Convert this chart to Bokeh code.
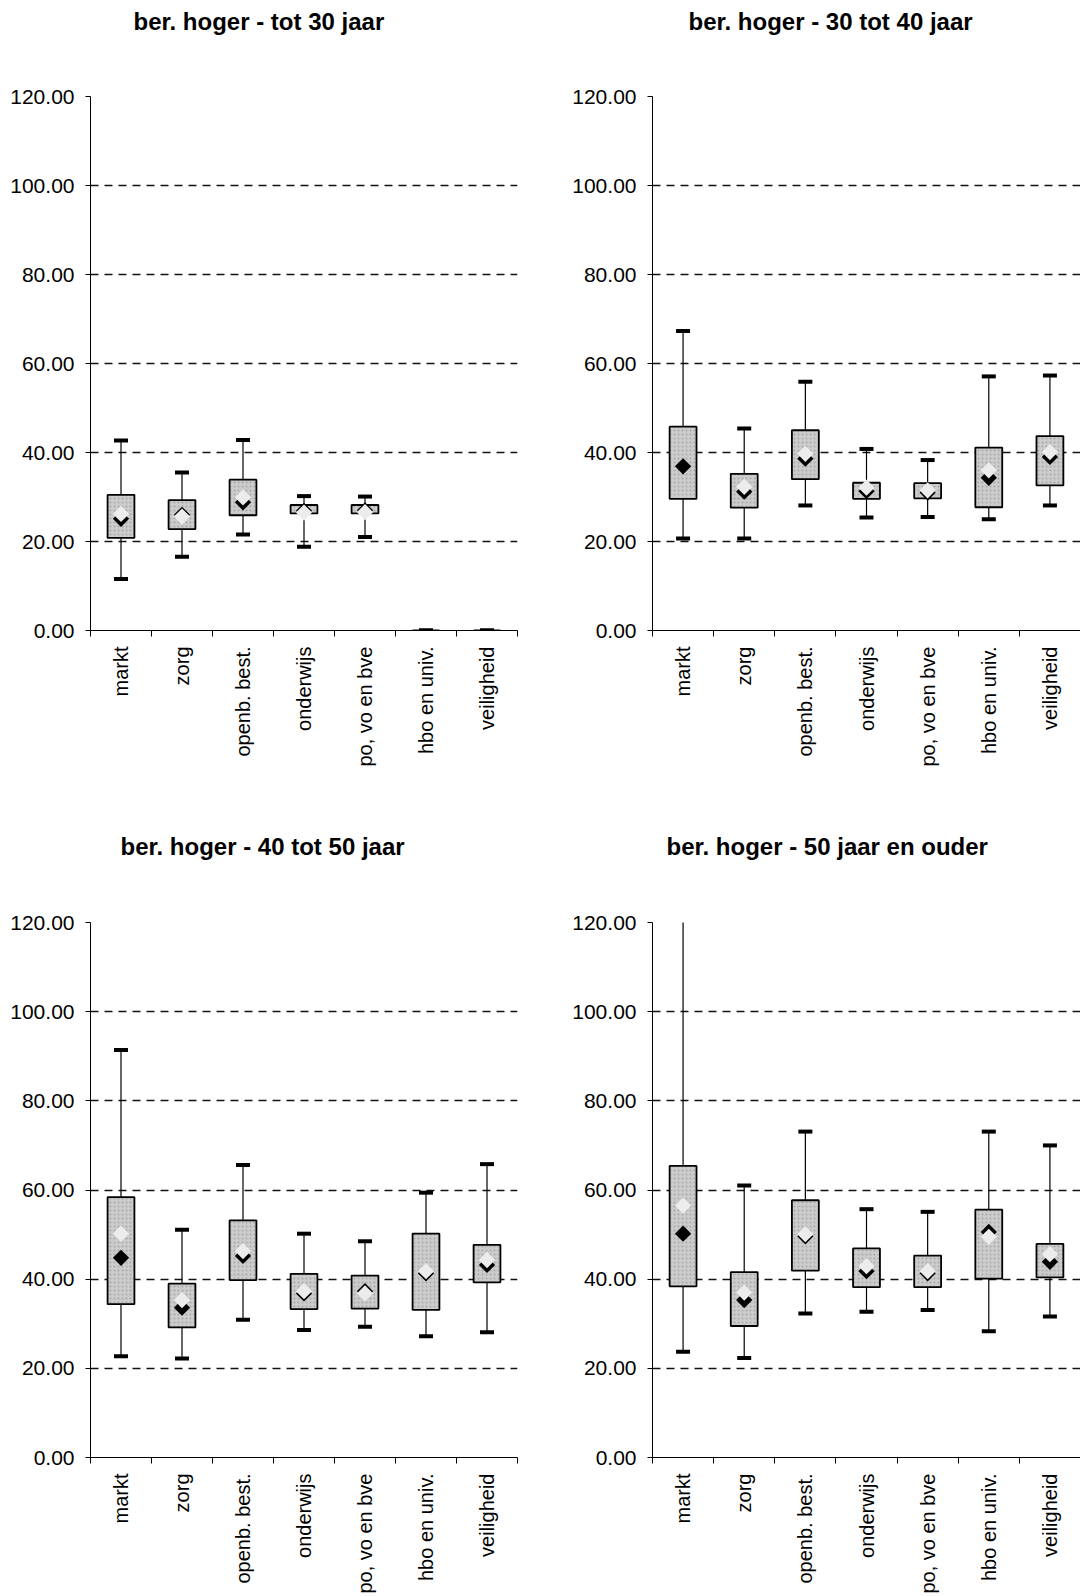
import math
from bokeh.plotting import figure
from bokeh.layouts import column, row
from bokeh.models import FixedTicker, PrintfTickFormatter, ColumnDataSource, Range1d
from bokeh.embed import file_html
from bokeh.resources import INLINE

nan = float("nan")

categories = ["markt", "zorg", "openb. best.", "onderwijs", "po, vo en bve", "hbo en univ.", "veiligheid"]
y_ticks = [0, 20, 40, 60, 80, 100, 120]
grid_ticks = [20, 40, 60, 80, 100, 120]

titles = ["ber. hoger - tot 30 jaar", "ber. hoger - 30 tot 40 jaar",
          "ber. hoger - 40 tot 50 jaar", "ber. hoger - 50 jaar en ouder"]

# tot 30 jaar
tot30_max = [42.7, 35.5, 42.8, 30.2, 30.1, 0, 0]
tot30_q3 = [30.5, 29.3, 33.9, 28.2, 28.2, 0, 0]
tot30_q1 = [20.8, 22.8, 25.9, 26.3, 26.3, 0, 0]
tot30_min = [11.6, 16.6, 21.6, 18.8, 21.0, 0, 0]
tot30_mean = [25.1, 26.0, 28.8, 26.9, 27.0, nan, nan]
tot30_median = [26.2, 25.6, 29.9, 26.5, 26.6, nan, nan]

# 30 tot 40 jaar
j30_40_max = [67.3, 45.4, 55.9, 40.8, 38.3, 57.1, 57.3]
j30_40_q3 = [45.8, 35.2, 45.0, 33.2, 33.1, 41.1, 43.7]
j30_40_q1 = [29.6, 27.6, 34.0, 29.6, 29.7, 27.7, 32.6]
j30_40_min = [20.7, 20.7, 28.1, 25.4, 25.5, 25.0, 28.1]
j30_40_mean = [36.9, 31.2, 38.6, 31.3, 31.0, 34.3, 39.0]
j30_40_median = [nan, 32.3, 39.7, 32.1, 31.5, 36.0, 40.1]

# 40 tot 50 jaar
j40_50_max = [91.4, 51.1, 65.6, 50.2, 48.5, 59.4, 65.8]
j40_50_q3 = [58.4, 39.0, 53.2, 41.2, 40.8, 50.2, 47.7]
j40_50_q1 = [34.4, 29.2, 39.8, 33.3, 33.4, 33.1, 39.3]
j40_50_min = [22.7, 22.2, 30.9, 28.6, 29.3, 27.2, 28.1]
j40_50_mean = [44.8, 33.6, 45.2, 36.8, 37.3, 41.3, 43.2]
j40_50_median = [50.2, 35.3, 46.3, 37.3, 36.8, 41.8, 44.3]

# 50 jaar en ouder
j50_max = [125.0, 61.0, 73.1, 55.7, 55.1, 73.1, 70.0]
j50_q3 = [65.4, 41.6, 57.7, 46.9, 45.3, 55.6, 47.9]
j50_q1 = [38.4, 29.5, 41.9, 38.2, 38.2, 40.1, 40.4]
j50_min = [23.7, 22.3, 32.3, 32.7, 33.1, 28.3, 31.6]
j50_mean = [50.2, 35.3, 49.6, 41.8, 41.3, 50.6, 43.9]
j50_median = [56.5, 37.0, 50.1, 42.9, 41.8, 49.5, 45.6]

FONT = "Liberation Sans"


def title_fig(text, width, height, b_left, b_right, b_top, t_offset):
    t = figure(width=width, height=height, output_backend="svg", toolbar_location=None,
               title=text, x_range=Range1d(0, 1), y_range=Range1d(0, 1),
               min_border_left=b_left, min_border_right=b_right,
               min_border_top=b_top, min_border_bottom=0)
    t.title.text_font = FONT
    t.title.text_font_size = "24px"
    t.title.text_font_style = "bold"
    t.title.text_color = "black"
    t.title.align = "left"
    t.title.offset = t_offset
    t.title.standoff = 8
    t.axis.visible = False
    t.grid.visible = False
    t.outline_line_color = None
    t.background_fill_color = "white"
    t.border_fill_color = "white"
    return t


def panel(hi, q3, q1, lo, mean, med, width, height, b_left, b_right, b_top, b_bottom):
    n = len(categories)
    xs = [i + 0.5 for i in range(n)]
    src = ColumnDataSource(dict(x=xs, hi=hi, q3=q3, q1=q1, lo=lo, mean=mean, med=med))
    p = figure(width=width, height=height, x_range=Range1d(0, n), y_range=Range1d(0, 120),
               output_backend="svg", toolbar_location=None,
               min_border_left=b_left, min_border_right=b_right,
               min_border_top=b_top, min_border_bottom=b_bottom)
    p.outline_line_color = None
    p.background_fill_color = "white"
    p.border_fill_color = "white"

    # y axis
    p.yaxis.ticker = FixedTicker(ticks=y_ticks)
    p.yaxis.formatter = PrintfTickFormatter(format="%.2f")
    p.yaxis.major_label_text_font = FONT
    p.yaxis.major_label_text_font_size = "21px"
    p.yaxis.major_label_text_color = "black"
    p.yaxis.major_tick_out = 5
    p.yaxis.major_tick_in = 0
    p.yaxis.minor_tick_line_color = None
    p.yaxis.axis_line_color = "black"
    p.yaxis.major_tick_line_color = "black"
    p.yaxis.major_label_standoff = 11

    # x axis: labels at category centres, ticks at category boundaries
    p.xaxis.ticker = FixedTicker(ticks=xs, minor_ticks=list(range(n + 1)))
    p.xaxis.major_label_overrides = {x: c for x, c in zip(xs, categories)}
    p.xaxis.major_label_orientation = math.pi / 2
    p.xaxis.major_label_text_font = FONT
    p.xaxis.major_label_text_font_size = "20px"
    p.xaxis.major_label_text_color = "black"
    p.xaxis.major_tick_out = 0
    p.xaxis.major_tick_in = 0
    p.xaxis.minor_tick_out = 6
    p.xaxis.minor_tick_in = 0
    p.xaxis.minor_tick_line_color = "black"
    p.xaxis.axis_line_color = "black"
    p.xaxis.major_label_standoff = 10

    p.xgrid.grid_line_color = None
    p.ygrid.ticker = FixedTicker(ticks=grid_ticks)
    p.ygrid.grid_line_color = "#111111"
    p.ygrid.grid_line_dash = "8 6"
    p.ygrid.grid_line_width = 1.3

    p.segment(x0="x", y0="q3", x1="x", y1="hi", source=src, line_color="black", line_width=1.2)
    p.segment(x0="x", y0="q1", x1="x", y1="lo", source=src, line_color="black", line_width=1.2)
    p.vbar(x="x", width=0.44, top="q3", bottom="q1", source=src,
           fill_color="#cccccc", line_color="black", line_width=1.8,
           hatch_pattern="dot", hatch_color="#8f8f8f", hatch_scale=4, hatch_weight=1, hatch_alpha=0.6)
    p.scatter(x="x", y="hi", source=src, marker="dash", size=14, line_width=4, line_color="black")
    p.scatter(x="x", y="lo", source=src, marker="dash", size=14, line_width=4, line_color="black")
    p.scatter(x="x", y="mean", source=src, marker="square", angle=math.pi / 4, size=11.5,
              fill_color="black", line_color=None)
    p.scatter(x="x", y="med", source=src, marker="square", angle=math.pi / 4, size=11.5,
              fill_color="#ececec", line_color=None)
    return p


t1 = title_fig(titles[0], 560, 60, 90, 43, 38, 43)
t2 = title_fig(titles[1], 520, 60, 92, 0, 38, 36)
p1 = panel(tot30_max, tot30_q3, tot30_q1, tot30_min, tot30_mean, tot30_median,
           560, 740, 90, 43, 36, 168)
p2 = panel(j30_40_max, j30_40_q3, j30_40_q1, j30_40_min, j30_40_mean, j30_40_median,
           520, 740, 92, 0, 34, 170)

t3 = title_fig(titles[2], 560, 80, 90, 43, 63, 30)
t4 = title_fig(titles[3], 520, 80, 92, 0, 62, 14)
p3 = panel(j40_50_max, j40_50_q3, j40_50_q1, j40_50_min, j40_50_mean, j40_50_median,
           560, 716, 90, 43, 42, 137)
p4 = panel(j50_max, j50_q3, j50_q1, j50_min, j50_mean, j50_median,
           520, 716, 92, 0, 42, 137)

layout = column(row(t1, t2), row(p1, p2), row(t3, t4), row(p3, p4))

with open("out.html", "w") as f:
    f.write(file_html(layout, INLINE))
